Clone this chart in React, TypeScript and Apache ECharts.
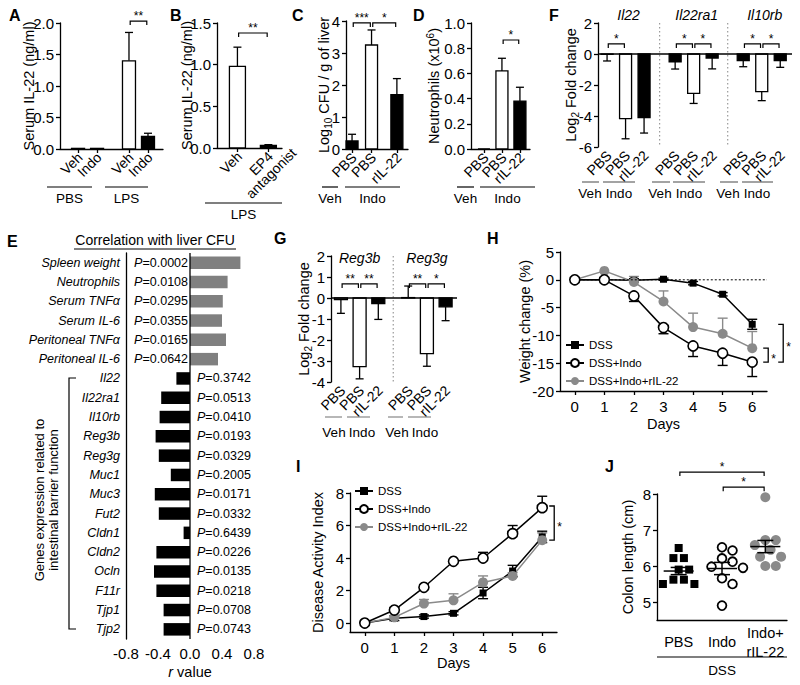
import React, { useEffect, useRef } from "react";
import * as echarts from "echarts";

const FONT = '"Liberation Sans", Arial, Helvetica, sans-serif';
const GREY = "#8a8a8a";
const EGREY = "#808080";

// ================= DATA =================
// Panel A
const aTickLabels = ["Veh", "Indo", "Veh", "Indo"];
const aGroupLabels = ["PBS", "LPS"];
const aMeans = [0.01, 0.01, 1.4, 0.2];
const aSEM = [0, 0, 0.45, 0.05];
const aFill = ["open", "solid", "open", "solid"];
const aSigPairs = [[2, 3]];
const aSigLevels = [2.03];
const aSigLabels = ["**"];
// Panel B
const bTickLabels = ["Veh", "EP4\nantagonist"];
const bGroupLabels = ["LPS"];
const bMeans = [0.98, 0.03];
const bSEM = [0.23, 0.01];
const bFill = ["open", "solid"];
const bSigPairs = [[0, 1]];
const bSigLevels = [1.38];
const bSigLabels = ["**"];
// Panel C
const cTickLabels = ["PBS", "PBS", "rIL-22"];
const cGroupLabels = ["Veh", "Indo"];
const cMeans = [0.25, 3.25, 1.7];
const cSEM = [0.21, 0.47, 0.5];
const cFill = ["solid", "open", "solid"];
const cSigPairs = [[0, 1], [1, 2]];
const cSigLevels = [3.94, 3.94];
const cSigLabels = ["***", "*"];
// Panel D
const dTickLabels = ["PBS", "PBS", "rIL-22"];
const dGroupLabels = ["Veh", "Indo"];
const dMeans = [0, 0.62, 0.38];
const dSEM = [0, 0.1, 0.11];
const dFill = ["solid", "open", "solid"];
const dSigPairs = [[1, 2]];
const dSigLevels = [0.865];
const dSigLabels = ["*"];
// Panel F
const fGenes = ["Il22", "Il22ra1", "Il10rb"];
const fTickLabels = ["PBS", "PBS", "rIL-22", "PBS", "PBS", "rIL-22", "PBS", "PBS", "rIL-22"];
const fGroupLabels = ["Veh", "Indo", "Veh", "Indo", "Veh", "Indo"];
const fMeans = [-0.02, -4.17, -4.1, -0.5, -2.54, -0.26, -0.43, -2.43, -0.43];
const fSEM = [0.43, 1.3, 1.0, 0.47, 0.65, 0.7, 0.39, 0.58, 0.43];
const fFill = ["open", "open", "solid", "solid", "open", "solid", "solid", "open", "solid"];
const fSigPairs = [[0, 1], [3, 4], [4, 5], [6, 7], [7, 8]];
const fSigLevels = [0.65, 0.65, 0.65, 0.65, 0.65];
const fSigLabels = ["*", "*", "*", "*", "*"];
// Panel E
const eCategories = [
  "Spleen weight", "Neutrophils", "Serum TNFα", "Serum IL-6", "Peritoneal TNFα", "Peritoneal IL-6",
  "Il22", "Il22ra1", "Il10rb", "Reg3b", "Reg3g", "Muc1", "Muc3", "Fut2", "Cldn1", "Cldn2", "Ocln", "F11r", "Tjp1", "Tjp2",
];
const eRValues = [0.63, 0.47, 0.41, 0.4, 0.45, 0.35, -0.17, -0.36, -0.38, -0.43, -0.39, -0.24, -0.44, -0.39, -0.08, -0.42, -0.45, -0.42, -0.33, -0.33];
const ePValues = [
  "0.0002", "0.0108", "0.0295", "0.0355", "0.0165", "0.0642", "0.3742", "0.0513", "0.0410", "0.0193",
  "0.0329", "0.2005", "0.0171", "0.0332", "0.6439", "0.0226", "0.0135", "0.0218", "0.0708", "0.0743",
];
const eGeneGroupLabel = "Genes expression related to\nintestinal barrier function";
// Panel G
const gGenes = ["Reg3b", "Reg3g"];
const gTickLabels = ["PBS", "PBS", "rIL-22", "PBS", "PBS", "rIL-22"];
const gGroupLabels = ["Veh", "Indo", "Veh", "Indo"];
const gMeans = [-0.08, -3.27, -0.27, 0.02, -2.65, -0.42];
const gSEM = [0.65, 0.58, 0.75, 0.55, 0.6, 0.66];
const gFill = ["open", "open", "solid", "open", "open", "solid"];
const gSigPairs = [[0, 1], [1, 2], [3, 4], [4, 5]];
const gSigLevels = [0.67, 0.67, 0.67, 0.67];
const gSigLabels = ["**", "**", "**", "*"];
// Panels H and I
const seriesNames = ["DSS", "DSS+Indo", "DSS+Indo+rIL-22"];
const days = [0, 1, 2, 3, 4, 5, 6];
const hDSS = [0, 0, -0.1, 0.1, -0.6, -2.6, -8.0];
const hDSSErr = [0, 0, 0.3, 0.2, 0.3, 0.3, 0.9];
const hIndo = [0, 0, -2.9, -8.6, -11.9, -13.2, -14.8];
const hIndoErr = [0, 0, 1.0, 1.1, 1.9, 2.2, 2.6];
const hRil = [0, 1.6, -0.4, -3.9, -8.5, -9.7, -12.3];
const hRilErr = [0, 0, 1.0, 1.9, 2.5, 2.8, 3.0];
const iDSS = [0, 0.3, 0.4, 0.6, 1.85, 3.2, 5.3];
const iDSSErr = [0, 0.15, 0.1, 0.1, 0.35, 0.35, 0.35];
const iIndo = [0, 0.8, 2.2, 3.8, 4.0, 5.5, 7.1];
const iIndoErr = [0, 0.15, 0.15, 0.1, 0.35, 0.5, 0.7];
const iRil = [0, 0.35, 1.2, 1.4, 2.5, 2.9, 5.1];
const iRilErr = [0, 0.1, 0.25, 0.4, 0.4, 0.2, 0.45];
// Panel J
const jCategories = ["PBS", "Indo", "Indo+\nrIL-22"];
const jGroupLabel = "DSS";
const jPBS = [6.5, 6.22, 6.22, 5.9, 5.9, 5.62, 5.62, 5.5, 5.5];
const jIndo = [6.52, 6.43, 6.21, 6.12, 5.98, 5.95, 5.66, 5.5, 4.9];
const jRil = [7.91, 6.72, 6.72, 6.58, 6.45, 6.26, 6.26, 6.0, 6.0];
const jMeans = [5.86, 5.93, 6.54];
const jSEM = [0.1, 0.17, 0.17];
const jSigPairs = [[0, 2], [1, 2]];
const jSigLevels = [8.61, 8.19];
const jSigLabels = ["*", "*"];

// ================= LAYOUT =================
const LA = { grid: { left: 60, top: 23, width: 103, height: 126 }, slots: [0, 1, 2.68, 3.68], xMin: -0.95, xMax: 4.47, barW: 13 };
const LB = { grid: { left: 217, top: 23, width: 65, height: 125 }, slots: [0, 1], xMin: -0.66, xMax: 1.44, barW: 16 };
const LC = { grid: { left: 346, top: 21, width: 62, height: 128 }, slots: [0, 1, 2.3], xMin: -0.31, xMax: 2.87, barW: 12 };
const LD = { grid: { left: 471, top: 23, width: 59, height: 126 }, slots: [0, 1, 2], xMin: -0.72, xMax: 2.56, barW: 12 };
const LF = { grid: { left: 598, top: 23, width: 194, height: 124 }, slots: [0, 1, 2, 3.68, 4.68, 5.68, 7.36, 8.36, 9.36], xMin: -0.49, xMax: 9.996, barW: 12 };
const LE = { grid: { left: 126, top: 253, width: 128, height: 386 } };
const LG = { grid: { left: 331, top: 256, width: 126, height: 126 }, slots: [0, 1, 2, 3.6, 4.6, 5.6], xMin: -0.53, xMax: 6.21, barW: 13 };
const LH = { grid: { left: 560, top: 252, width: 207, height: 139 } };
const LI = { grid: { left: 350, top: 493, width: 207, height: 139 } };
const LJ = { grid: { left: 657, top: 494, width: 130, height: 126 } };

const AXIS = { color: "#000", width: 1.3 };
const TICK_FONT = 14;

let measureCtx: CanvasRenderingContext2D | null = null;
function textWidth(t: string, size: number) {
  if (!measureCtx) measureCtx = document.createElement("canvas").getContext("2d");
  if (!measureCtx) return t.length * size * 0.55;
  measureCtx.font = `${size}px ${FONT}`;
  return measureCtx.measureText(t).width;
}

function slotPx(l: any, s: number) {
  return l.grid.left + ((s - l.xMin) * l.grid.width) / (l.xMax - l.xMin);
}

function barXAxis(gi: number, l: any, showLine: boolean) {
  return {
    type: "value",
    gridIndex: gi,
    min: l.xMin,
    max: l.xMax,
    axisLine: { show: showLine, onZero: false, lineStyle: AXIS },
    axisTick: { show: showLine, customValues: l.slots, length: 4, lineStyle: AXIS },
    axisLabel: { show: false },
    splitLine: { show: false },
  };
}

// rotated tick labels drawn at the axis positions of the slots
function tickLabelSeries(gi: number, l: any, yBase: number, labels: string[]) {
  return {
    type: "custom",
    xAxisIndex: gi,
    yAxisIndex: gi,
    silent: true,
    clip: false,
    z: 5,
    data: l.slots.map((s: number) => [s, yBase]),
    renderItem: (params: any, api: any) => {
      const p = api.coord([api.value(0), api.value(1)]);
      const text = labels[params.dataIndex];
      const lines = text.split("\n");
      const multi = lines.length > 1;
      const firstW = textWidth(lines[0], TICK_FONT);
      return {
        type: "text",
        x: p[0] + 2,
        y: p[1] + 6,
        rotation: Math.PI / 4,
        style: {
          text,
          x: multi ? -firstW / 2 : 0,
          y: multi ? (TICK_FONT * (lines.length - 1)) / 2 : 0,
          align: multi ? "center" : "right",
          verticalAlign: "middle",
          fontSize: TICK_FONT,
          lineHeight: TICK_FONT,
          fontFamily: FONT,
          fill: "#000",
        },
      };
    },
  };
}

function yAxisVal(gi: number, min: number, max: number, interval: number | null, fmt: any, name: string, gap: number, extra: any = {}) {
  const ax: any = {
    type: "value",
    gridIndex: gi,
    min,
    max,
    axisLine: { show: true, onZero: false, lineStyle: AXIS },
    axisTick: { show: true, length: 4, lineStyle: AXIS },
    axisLabel: { formatter: fmt, fontSize: 15, margin: 6, color: "#000", fontFamily: FONT },
    splitLine: { show: false },
    name,
    nameLocation: "middle",
    nameGap: gap,
    nameMoveOverlap: false,
    nameTextStyle: {
      fontSize: 14.5,
      color: "#000",
      fontFamily: FONT,
      lineHeight: 18,
      rich: {
        sub: { fontSize: 10, lineHeight: 10, verticalAlign: "bottom", fontFamily: FONT, color: "#000" },
        sup: { fontSize: 10, lineHeight: 10, verticalAlign: "top", fontFamily: FONT, color: "#000" },
      },
    },
  };
  if (interval !== null) ax.interval = interval;
  return Object.assign(ax, extra);
}

function barSeries(gi: number, l: any, means: number[], sems: number[], fills: string[]) {
  const w = l.barW;
  return {
    type: "custom",
    xAxisIndex: gi,
    yAxisIndex: gi,
    silent: true,
    clip: false,
    z: 3,
    data: l.slots.map((s: number, i: number) => [s, means[i], sems[i]]),
    renderItem: (params: any, api: any) => {
      const i = params.dataIndex;
      const x = api.value(0), v = api.value(1), e = api.value(2);
      const b = api.coord([x, 0]);
      const t = api.coord([x, v]);
      const dir = v >= 0 ? 1 : -1;
      const end = api.coord([x, v + dir * e]);
      const kids: any[] = [];
      if (e > 0) {
        kids.push({ type: "line", shape: { x1: t[0], y1: t[1], x2: end[0], y2: end[1] }, style: { stroke: "#000", lineWidth: 1.3 } });
        kids.push({ type: "line", shape: { x1: end[0] - 4, y1: end[1], x2: end[0] + 4, y2: end[1] }, style: { stroke: "#000", lineWidth: 1.3 } });
      }
      kids.push({
        type: "rect",
        shape: { x: b[0] - w / 2, y: Math.min(b[1], t[1]), width: w, height: Math.abs(t[1] - b[1]) },
        style: { fill: fills[i] === "solid" ? "#000" : "#fff", stroke: "#000", lineWidth: 1.3 },
      });
      return { type: "group", children: kids };
    },
  };
}

function sigSeries(gi: number, xs: number[], pairs: number[][], levels: number[], labels: string[], fontSize = 12) {
  return {
    type: "custom",
    xAxisIndex: gi,
    yAxisIndex: gi,
    silent: true,
    clip: false,
    z: 5,
    data: pairs.map((p, k) => [xs[p[0]], levels[k], xs[p[1]]]),
    renderItem: (params: any, api: any) => {
      const k = params.dataIndex;
      const p1 = api.coord([api.value(0), api.value(1)]);
      const p2 = api.coord([api.value(2), api.value(1)]);
      const x1 = p1[0] + 1.2, x2 = p2[0] - 1.2, y = p1[1];
      return {
        type: "group",
        children: [
          { type: "polyline", shape: { points: [[x1, y + 4], [x1, y], [x2, y], [x2, y + 4]] }, style: { stroke: "#000", fill: "none", lineWidth: 1.2 } },
          { type: "text", style: { text: labels[k], x: (x1 + x2) / 2, y: y + 1, align: "center", verticalAlign: "bottom", fontSize, fontFamily: FONT, fill: "#000" } },
        ],
      };
    },
  };
}

function refLine(gi: number, dir: string, values: number[], style: any, from?: number) {
  return {
    type: "custom",
    xAxisIndex: gi,
    yAxisIndex: gi,
    silent: true,
    clip: false,
    z: 4,
    data: values.map((v) => [v, 0]),
    renderItem: (params: any, api: any) => {
      const cs = params.coordSys;
      const v = values[params.dataIndex];
      if (dir === "h") {
        const y = api.coord([from !== undefined ? from : 0, v])[1];
        const x1 = from !== undefined ? api.coord([from, v])[0] : cs.x;
        return { type: "line", shape: { x1, y1: y, x2: cs.x + cs.width, y2: y }, style };
      }
      const x = api.coord([v, 0])[0];
      return { type: "line", shape: { x1: x, y1: cs.y, x2: x, y2: cs.y + cs.height }, style };
    },
  };
}

function errSeries(gi: number, ys: number[], errs: number[], mode: string, color: string) {
  return {
    type: "custom",
    xAxisIndex: gi,
    yAxisIndex: gi,
    silent: true,
    clip: false,
    z: 1,
    data: days.map((d, i) => [d, ys[i], errs[i]]),
    renderItem: (params: any, api: any) => {
      const x = api.value(0), v = api.value(1), e = api.value(2);
      if (!(e > 0)) return { type: "group", children: [] };
      const hi = api.coord([x, mode === "down" ? v : v + e]);
      const lo = api.coord([x, mode === "up" ? v : v - e]);
      const st = { stroke: color, lineWidth: 1.4 };
      const kids: any[] = [{ type: "line", shape: { x1: hi[0], y1: hi[1], x2: lo[0], y2: lo[1] }, style: st }];
      if (mode !== "down") kids.push({ type: "line", shape: { x1: hi[0] - 5, y1: hi[1], x2: hi[0] + 5, y2: hi[1] }, style: st });
      if (mode !== "up") kids.push({ type: "line", shape: { x1: lo[0] - 5, y1: lo[1], x2: lo[0] + 5, y2: lo[1] }, style: st });
      return { type: "group", children: kids };
    },
  };
}

function lineSeries(gi: number, k: number, ys: number[]) {
  const color = k === 2 ? GREY : "#000";
  return {
    type: "line",
    name: seriesNames[k],
    xAxisIndex: gi,
    yAxisIndex: gi,
    data: days.map((d, i) => [d, ys[i]]),
    symbol: k === 0 ? "rect" : "circle",
    symbolSize: k === 0 ? 7 : 10,
    showAllSymbol: true,
    silent: true,
    z: 3 + (k === 1 ? 1 : 0),
    lineStyle: { color, width: 1.5 },
    itemStyle: { color: k === 1 ? "#fff" : color, borderColor: color, borderWidth: k === 1 ? 1.6 : 0 },
  };
}

function vBracket(gi: number, items: number[][], offsets: number[]) {
  return {
    type: "custom",
    xAxisIndex: gi,
    yAxisIndex: gi,
    silent: true,
    clip: false,
    z: 5,
    data: items.map((it) => [it[0], it[1], it[2]]),
    renderItem: (params: any, api: any) => {
      const off = offsets[params.dataIndex];
      const p1 = api.coord([api.value(0), api.value(1)]);
      const p2 = api.coord([api.value(0), api.value(2)]);
      const X = p1[0] + off;
      return {
        type: "group",
        children: [
          { type: "polyline", shape: { points: [[X - 5, p1[1]], [X, p1[1]], [X, p2[1]], [X - 5, p2[1]]] }, style: { stroke: "#000", fill: "none", lineWidth: 1.3 } },
          { type: "text", style: { text: "*", x: X + 3, y: (p1[1] + p2[1]) / 2 + 4, align: "left", verticalAlign: "middle", fontSize: 12, fontFamily: FONT, fill: "#000" } },
        ],
      };
    },
  };
}

function swarm(vals: number[], pxPerUnit: number, d: number) {
  const order = vals.map((_, i) => i).sort((a, b) => vals[b] - vals[a]);
  const placed: { x: number; y: number }[] = [];
  const out = vals.map(() => 0);
  for (const i of order) {
    const y = vals[i] * pxPerUnit;
    for (let k = 0; k < 60; k++) {
      const cand = k === 0 ? 0 : (k % 2 ? 1 : -1) * Math.ceil(k / 2) * d * 0.5;
      if (placed.every((p) => Math.hypot(p.x - cand, p.y - y) >= d)) {
        out[i] = cand;
        placed.push({ x: cand, y });
        break;
      }
    }
  }
  return out;
}

function textEl(text: string, x: number, y: number, opts: any = {}) {
  return {
    type: "text",
    x,
    y,
    silent: true,
    style: Object.assign({ text, fill: "#000", fontSize: 14, fontFamily: FONT, align: "center", verticalAlign: "middle" }, opts),
  };
}
function lineEl(x1: number, y1: number, x2: number, y2: number, stroke = "#000", lineWidth = 1.2) {
  return { type: "line", silent: true, shape: { x1, y1, x2, y2 }, style: { stroke, lineWidth } };
}
function groupLabel(x1: number, x2: number, yLine: number, yText: number, text: string, stroke = "#000", xText?: number) {
  return [lineEl(x1, yLine, x2, yLine, stroke, 1.2), textEl(text, xText !== undefined ? xText : (x1 + x2) / 2, yText, { fontSize: 13.5 })];
}

function buildOption() {
  const grids = [LA, LB, LC, LD, LF, LE, LG, LH, LI, LJ].map((l) => Object.assign({ containLabel: false }, l.grid));

  const f1 = (v: number) => v.toFixed(1);
  const f0 = (v: number) => String(Math.round(v));

  // J swarm
  const jPxPerUnit = LJ.grid.height / (8 - 4.5);
  const jGroups = [jPBS, jIndo, jRil];
  const jPoints: number[][] = [];
  const jOffsets: number[] = [];
  jGroups.forEach((g, gi) => {
    const offs = swarm(g, jPxPerUnit, 10.5);
    g.forEach((v, i) => {
      jPoints.push([gi, v]);
      jOffsets.push(offs[i]);
    });
  });

  const xAxis: any[] = [
    barXAxis(0, LA, true),
    barXAxis(1, LB, true),
    barXAxis(2, LC, true),
    barXAxis(3, LD, true),
    barXAxis(4, LF, false),
    {
      type: "value", gridIndex: 5, min: -0.8, max: 0.8, interval: 0.4,
      axisLine: { onZero: false, lineStyle: AXIS }, axisTick: { length: 4, lineStyle: AXIS },
      axisLabel: { formatter: f1, fontSize: 15, color: "#000", fontFamily: FONT, margin: 7 },
      splitLine: { show: false },
      name: "{i|r} value", nameLocation: "middle", nameGap: 25, nameMoveOverlap: false,
      nameTextStyle: { fontSize: 14.5, color: "#000", fontFamily: FONT, rich: { i: { fontStyle: "italic", fontSize: 14.5, fontFamily: FONT, color: "#000" } } },
    },
    barXAxis(6, LG, false),
    {
      type: "value", gridIndex: 7, min: -0.5, max: 6.5,
      axisLine: { onZero: false, lineStyle: AXIS }, axisTick: { customValues: days, length: 4, lineStyle: AXIS },
      axisLabel: { customValues: days, fontSize: 15, color: "#000", fontFamily: FONT, margin: 8 },
      splitLine: { show: false }, name: "Days", nameLocation: "middle", nameGap: 25, nameMoveOverlap: false,
      nameTextStyle: { fontSize: 14.5, color: "#000", fontFamily: FONT },
    },
    {
      type: "value", gridIndex: 8, min: -0.5, max: 6.5,
      axisLine: { onZero: false, lineStyle: AXIS }, axisTick: { customValues: days, length: 4, lineStyle: AXIS },
      axisLabel: { customValues: days, fontSize: 15, color: "#000", fontFamily: FONT, margin: 8 },
      splitLine: { show: false }, name: "Days", nameLocation: "middle", nameGap: 23, nameMoveOverlap: false,
      nameTextStyle: { fontSize: 14.5, color: "#000", fontFamily: FONT },
    },
    {
      type: "category", gridIndex: 9, data: jCategories,
      axisLine: { onZero: false, lineStyle: AXIS }, axisTick: { alignWithLabel: true, length: 4, lineStyle: AXIS },
      axisLabel: { interval: 0, fontSize: 14.5, color: "#000", fontFamily: FONT, verticalAlign: "middle", margin: 22, lineHeight: 19 },
    },
  ];

  const yAxis: any[] = [
    yAxisVal(0, 0, 2, 0.5, f1, "Serum IL-22 (ng/ml)", 22),
    yAxisVal(1, 0, 1.5, 0.5, f1, "Serum IL-22 (ng/ml)", 21),
    yAxisVal(2, 0, 4, 1, f0, "Log{sub|10} CFU / g of liver", 13),
    yAxisVal(3, 0, 1, 0.2, f1, "Neutrophils (x10{sup|6})", 28),
    yAxisVal(4, -6, 2, 2, f0, "Log{sub|2} Fold change", 18),
    {
      type: "category", gridIndex: 5, data: eCategories, inverse: true,
      axisLine: { onZero: false, lineStyle: AXIS }, axisTick: { alignWithLabel: true, length: 4, lineStyle: AXIS },
      axisLabel: { interval: 0, fontSize: 12.5, fontStyle: "italic", color: "#000", fontFamily: FONT, margin: 6 },
    },
    yAxisVal(6, -4, 2, 1, f0, "Log{sub|2} Fold change", 18),
    yAxisVal(7, -20, 5, 5, f0, "Weight change (%)", 26),
    yAxisVal(8, -0.55, 8, null, f0, "Disease Activity Index", 23, {
      axisLabel: { customValues: [0, 2, 4, 6, 8], formatter: f0, fontSize: 15, margin: 6, color: "#000", fontFamily: FONT },
      axisTick: { show: true, customValues: [0, 2, 4, 6, 8], length: 4, lineStyle: AXIS },
    }),
    yAxisVal(9, 4.5, 8, null, f0, "Colon length (cm)", 20, {
      axisLabel: { customValues: [5, 6, 7, 8], formatter: f0, fontSize: 15, margin: 6, color: "#000", fontFamily: FONT },
      axisTick: { show: true, customValues: [5, 6, 7, 8], length: 4, lineStyle: AXIS },
    }),
  ];

  const fSep = [(LF.slots[2] + LF.slots[3]) / 2, (LF.slots[5] + LF.slots[6]) / 2];
  const gSep = [(LG.slots[2] + LG.slots[3]) / 2];
  const dotted = { stroke: "#9a9a9a", lineWidth: 1.2, lineDash: [1.5, 2.5] };
  const solid = { stroke: "#000", lineWidth: 1.3 };

  const series: any[] = [
    barSeries(0, LA, aMeans, aSEM, aFill),
    sigSeries(0, LA.slots, aSigPairs, aSigLevels, aSigLabels),
    tickLabelSeries(0, LA, 0, aTickLabels),
    barSeries(1, LB, bMeans, bSEM, bFill),
    sigSeries(1, LB.slots, bSigPairs, bSigLevels, bSigLabels),
    tickLabelSeries(1, LB, 0, bTickLabels),
    barSeries(2, LC, cMeans, cSEM, cFill),
    sigSeries(2, LC.slots, cSigPairs, cSigLevels, cSigLabels),
    tickLabelSeries(2, LC, 0, cTickLabels),
    barSeries(3, LD, dMeans, dSEM, dFill),
    sigSeries(3, LD.slots, dSigPairs, dSigLevels, dSigLabels),
    tickLabelSeries(3, LD, 0, dTickLabels),
    refLine(4, "v", fSep, dotted),
    barSeries(4, LF, fMeans, fSEM, fFill),
    refLine(4, "h", [0], solid),
    sigSeries(4, LF.slots, fSigPairs, fSigLevels, fSigLabels),
    tickLabelSeries(4, LF, -6, fTickLabels),
    // E
    {
      type: "custom", xAxisIndex: 5, yAxisIndex: 5, silent: true, clip: false, z: 3,
      data: eRValues.map((v, i) => [v, i]),
      renderItem: (params: any, api: any) => {
        const i = params.dataIndex;
        const v = api.value(0);
        const z0 = api.coord([0, i]);
        const p = api.coord([v, i]);
        const h = 12.5;
        const pos = v >= 0;
        return {
          type: "group",
          children: [
            { type: "rect", shape: { x: Math.min(z0[0], p[0]), y: z0[1] - h / 2, width: Math.abs(p[0] - z0[0]), height: h }, style: { fill: pos ? EGREY : "#000" } },
            {
              type: "text",
              style: {
                text: "{i|P}=" + ePValues[i], x: pos ? z0[0] - 2 : z0[0] + 7, y: z0[1], align: pos ? "right" : "left", verticalAlign: "middle",
                fontSize: 12.5, fontFamily: FONT, fill: "#000",
                rich: { i: { fontStyle: "italic", fontSize: 12.5, fontFamily: FONT, fill: "#000" } },
              },
            },
          ],
        };
      },
    },
    refLine(5, "v", [0], solid),
    // G
    refLine(6, "v", gSep, dotted),
    barSeries(6, LG, gMeans, gSEM, gFill),
    refLine(6, "h", [0], solid),
    sigSeries(6, LG.slots, gSigPairs, gSigLevels, gSigLabels),
    tickLabelSeries(6, LG, -4, gTickLabels),
    // H
    refLine(7, "h", [0], { stroke: "#000", lineWidth: 1, lineDash: [2, 2] }, 0),
    errSeries(7, hDSS, hDSSErr, "both", "#000"),
    errSeries(7, hIndo, hIndoErr, "down", "#000"),
    errSeries(7, hRil, hRilErr, "up", GREY),
    lineSeries(7, 0, hDSS),
    lineSeries(7, 1, hIndo),
    lineSeries(7, 2, hRil),
    vBracket(7, [[6, hRil[6], hIndo[6]], [6, hDSS[6], hIndo[6]]], [16, 31]),
    // I
    errSeries(8, iDSS, iDSSErr, "both", "#000"),
    errSeries(8, iIndo, iIndoErr, "up", "#000"),
    errSeries(8, iRil, iRilErr, "up", GREY),
    lineSeries(8, 0, iDSS),
    lineSeries(8, 1, iIndo),
    lineSeries(8, 2, iRil),
    vBracket(8, [[6, iIndo[6] + 0.1, iRil[6]]], [12]),
    // J points
    {
      type: "custom", xAxisIndex: 9, yAxisIndex: 9, silent: true, clip: false, z: 3,
      data: jPoints,
      renderItem: (params: any, api: any) => {
        const g = api.value(0);
        const p = api.coord([g, api.value(1)]);
        const x = p[0] + jOffsets[params.dataIndex];
        if (g === 0) return { type: "rect", shape: { x: x - 4, y: p[1] - 4, width: 8, height: 8 }, style: { fill: "#000" } };
        if (g === 1) return { type: "circle", shape: { cx: x, cy: p[1], r: 4.4 }, style: { fill: "#fff", stroke: "#000", lineWidth: 1.8 } };
        return { type: "circle", shape: { cx: x, cy: p[1], r: 5 }, style: { fill: GREY } };
      },
    },
    {
      type: "custom", xAxisIndex: 9, yAxisIndex: 9, silent: true, clip: false, z: 4,
      data: jMeans.map((m, i) => [i, m, jSEM[i]]),
      renderItem: (params: any, api: any) => {
        const g = api.value(0), m = api.value(1), s = api.value(2);
        const c = api.coord([g, m]);
        const hi = api.coord([g, m + s]);
        const lo = api.coord([g, m - s]);
        const st = { stroke: "#000", lineWidth: 1.5 };
        return {
          type: "group",
          children: [
            { type: "line", shape: { x1: c[0] - 15, y1: c[1], x2: c[0] + 15, y2: c[1] }, style: st },
            { type: "line", shape: { x1: c[0], y1: hi[1], x2: c[0], y2: lo[1] }, style: st },
            { type: "line", shape: { x1: c[0] - 8, y1: hi[1], x2: c[0] + 8, y2: hi[1] }, style: st },
            { type: "line", shape: { x1: c[0] - 8, y1: lo[1], x2: c[0] + 8, y2: lo[1] }, style: st },
          ],
        };
      },
    },
    sigSeries(9, [0, 1, 2], jSigPairs, jSigLevels, jSigLabels),
  ];

  const legendBase = {
    data: seriesNames,
    orient: "vertical",
    itemWidth: 18,
    itemHeight: 10,
    itemGap: 6,
    selectedMode: false,
    padding: 0,
    textStyle: { fontSize: 11.5, color: "#000", fontFamily: FONT },
  };

  const letters: [string, number, number][] = [
    ["A", 9, 15], ["B", 170, 15], ["C", 292, 15], ["D", 413, 15], ["F", 549, 15],
    ["E", 7, 241], ["G", 274, 238], ["H", 487, 238], ["I", 296, 466], ["J", 605, 466],
  ];

  const graphic: any[] = [];
  letters.forEach(([t, x, y]) => graphic.push(textEl(t, x, y, { align: "left", fontSize: 16, fontWeight: "bold" })));
  // group labels
  graphic.push(...groupLabel(47, 92, 187, 198, aGroupLabels[0]));
  graphic.push(...groupLabel(105, 148, 187, 198, aGroupLabels[1]));
  graphic.push(...groupLabel(205, 282, 203, 214, bGroupLabels[0]));
  graphic.push(...groupLabel(322, 338, 187, 198, cGroupLabels[0]));
  graphic.push(...groupLabel(345, 400, 187, 198, cGroupLabels[1]));
  graphic.push(...groupLabel(457, 474, 187, 198, dGroupLabels[0]));
  graphic.push(...groupLabel(480, 535, 187, 198, dGroupLabels[1]));
  const fSpans = [[582, 599], [603, 635], [652, 670], [673, 705], [720, 738], [742, 773]];
  const fTextX = [590, 619, 660, 689, 728, 757];
  fSpans.forEach((s, i) => graphic.push(...groupLabel(s[0], s[1], 182, 193, fGroupLabels[i], "#666", fTextX[i])));
  const gSpans = [[325, 342], [347, 370], [388, 403], [408, 431]];
  const gTextX = [334, 362, 397, 425];
  gSpans.forEach((s, i) => graphic.push(...groupLabel(s[0], s[1], 417, 432, gGroupLabels[i], "#888", gTextX[i])));
  graphic.push(...groupLabel(657, 787, 657, 670, jGroupLabel));
  // gene titles
  fGenes.forEach((g, k) => {
    const x = slotPx(LF, (LF.slots[k * 3] + LF.slots[k * 3 + 2]) / 2);
    graphic.push(textEl(g, x + 3, 15, { fontStyle: "italic", fontSize: 14 }));
  });
  gGenes.forEach((g, k) => {
    const x = slotPx(LG, (LG.slots[k * 3] + LG.slots[k * 3 + 2]) / 2);
    graphic.push(textEl(g, x, 258, { fontStyle: "italic", fontSize: 14 }));
  });
  // E title and gene bracket
  graphic.push(textEl("Correlation with liver CFU", 155, 240, { fontSize: 14 }));
  graphic.push(lineEl(74, 249, 236, 249, "#000", 1));
  graphic.push({
    type: "polyline", silent: true,
    shape: { points: [[76, 378], [69, 378], [69, 629], [76, 629]] },
    style: { stroke: "#000", fill: "none", lineWidth: 1.2 },
  });
  graphic.push({
    type: "text", x: 46, y: 500, rotation: Math.PI / 2, silent: true,
    style: { text: eGeneGroupLabel, fill: "#000", fontSize: 13, fontFamily: FONT, align: "center", verticalAlign: "middle", lineHeight: 14 },
  });

  return {
    animation: false,
    backgroundColor: "#fff",
    textStyle: { fontFamily: FONT, color: "#000" },
    grid: grids,
    xAxis,
    yAxis,
    legend: [
      Object.assign({}, legendBase, { left: 565, top: 339 }),
      Object.assign({}, legendBase, { left: 354, top: 485 }),
    ],
    series,
    graphic,
  };
}

export default function App() {
  const ref = useRef<HTMLDivElement>(null);
  useEffect(() => {
    if (!ref.current) return;
    const chart = echarts.init(ref.current, null, { renderer: "svg" });
    chart.setOption(buildOption() as any);
    return () => chart.dispose();
  }, []);
  return <div ref={ref} style={{ position: "absolute", left: 0, top: 0, width: 800, height: 685, background: "#fff" }} />;
}
